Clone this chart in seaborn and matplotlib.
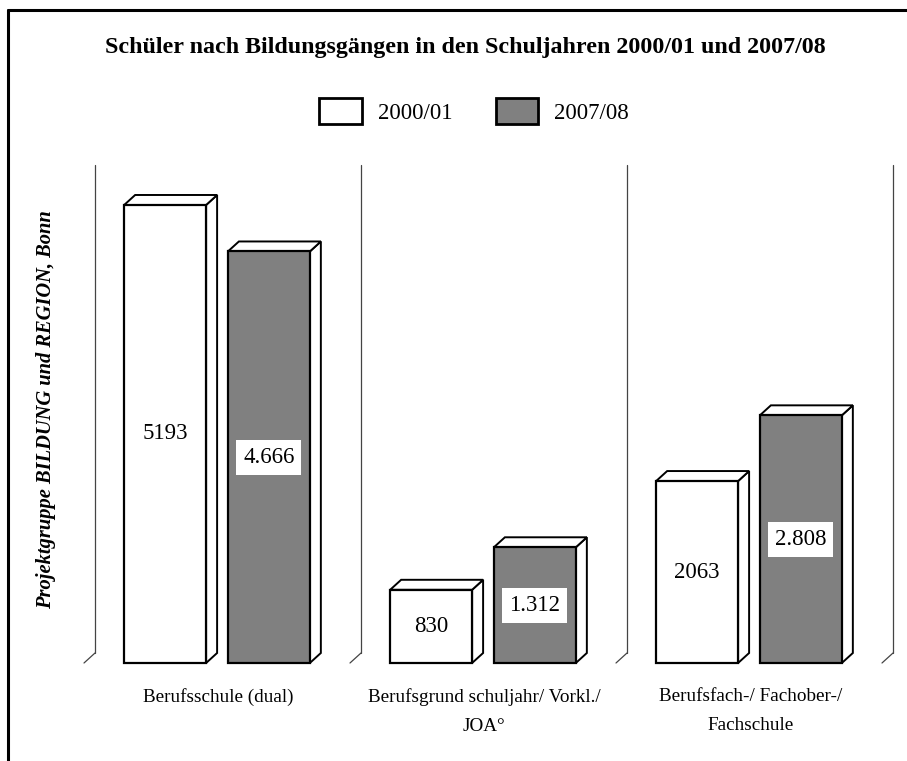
import matplotlib
matplotlib.use("Agg")
import matplotlib.pyplot as plt
import seaborn as sns
import pandas as pd
from matplotlib.patches import Polygon
from matplotlib.lines import Line2D

categories = ["Berufsschule (dual)", "Berufsgrund schuljahr/ Vorkl./\nJOA°", "Berufsfach-/ Fachober-/\nFachschule"]
years = ["2000/01", "2007/08"]
values_2000 = [5193, 830, 2063]
values_2007 = [4666, 1312, 2808]
labels_2000 = ["5193", "830", "2063"]
labels_2007 = ["4.666", "1.312", "2.808"]

df = pd.DataFrame({
    "cat": categories * 2,
    "year": [years[0]] * 3 + [years[1]] * 3,
    "val": values_2000 + values_2007,
})

sns.set_theme(style="white")
plt.rcParams["font.family"] = ["Liberation Serif", "DejaVu Serif"]
plt.rcParams["text.color"] = "black"

W, H = 907, 761
fig = plt.figure(figsize=(W / 100, H / 100), dpi=100)
ax_left, ax_right = 84, 882
ax_bottom, ax_top = 663, 175
ax = fig.add_axes([ax_left / W, 1 - ax_bottom / H, (ax_right - ax_left) / W, (ax_bottom - ax_top) / H])

palette = {years[0]: "white", years[1]: "#808080"}
sns.barplot(data=df, x="cat", y="val", hue="year", palette=palette, width=0.78, gap=0.21,
            edgecolor="black", linewidth=1.6, ax=ax, legend=True, saturation=1)

ymax = 5533
ax.set_xlim(-0.5, 2.5)
ax.set_ylim(0, ymax)
for s in ax.spines.values():
    s.set_visible(False)
ax.set_xticks([])
ax.set_yticks([])
ax.set_xlabel("")
ax.set_ylabel("")
ax.patch.set_alpha(0)

px_x = (ax_right - ax_left) / 3.0
px_y = (ax_bottom - ax_top) / ymax
ddx = 11 / px_x
ddy = 10 / px_y

# back-wall separators
for xs in [-0.5, 0.5, 1.5, 2.5]:
    ax.add_line(Line2D([xs, xs + ddx], [0, ddy], color="#444444", lw=0.9, clip_on=False))
    ax.add_line(Line2D([xs + ddx, xs + ddx], [ddy, ymax + 10 / px_y], color="#444444", lw=0.9, clip_on=False))

bars = [p for p in ax.patches if p.get_height() > 0]
for p in bars:
    x, w, h = p.get_x(), p.get_width(), p.get_height()
    top = Polygon([(x, h), (x + w, h), (x + w + ddx, h + ddy), (x + ddx, h + ddy)], closed=True,
                  facecolor="white", edgecolor="black", lw=1.4, clip_on=False, zorder=3)
    side = Polygon([(x + w, 0), (x + w + ddx, ddy), (x + w + ddx, h + ddy), (x + w, h)], closed=True,
                   facecolor="white", edgecolor="black", lw=1.4, clip_on=False, zorder=3)
    ax.add_patch(side)
    ax.add_patch(top)
    p.set_zorder(4)
    p.set_clip_on(False)

# value labels
for i, (v, t) in enumerate(zip(values_2000, labels_2000)):
    p = bars[i]
    ax.text(p.get_x() + p.get_width() / 2, v / 2, t, ha="center", va="center", fontsize=16.5, zorder=6)
for i, (v, t) in enumerate(zip(values_2007, labels_2007)):
    p = bars[3 + i]
    ax.text(p.get_x() + p.get_width() / 2, v / 2, t, ha="center", va="center", fontsize=16.5, zorder=6,
            bbox=dict(facecolor="white", edgecolor="none", boxstyle="square,pad=0.3"))

# category labels
for i, c in enumerate(categories):
    ax.text(i + 0.005, -25 / px_y, c, ha="center", va="top", fontsize=13.8, linespacing=1.95)

handles, labels = ax.get_legend_handles_labels()
ax.get_legend().remove()
leg = fig.legend(handles, labels, loc="center", bbox_to_anchor=(474 / W, 1 - 111 / H), ncol=2,
                 frameon=False, fontsize=16.5, handlelength=1.85, handleheight=1.4,
                 handletextpad=0.7, columnspacing=1.9)
for h in leg.legend_handles:
    h.set_edgecolor("black")
    h.set_linewidth(2)

fig.text(465 / W, 1 - 48 / H, "Schüler nach Bildungsgängen in den Schuljahren 2000/01 und 2007/08",
         ha="center", va="center", fontsize=17.3, fontweight="bold")
fig.text(46 / W, 1 - 410 / H, "Projektgruppe BILDUNG und REGION, Bonn", rotation=90,
         ha="center", va="center", fontsize=14.8, fontweight="bold", fontstyle="italic")

# frame
fig.add_artist(Line2D([8 / W, 1.0], [1 - 10 / H, 1 - 10 / H], color="black", lw=2.2, transform=fig.transFigure))
fig.add_artist(Line2D([8 / W, 8 / W], [1 - 10 / H, 0.0], color="black", lw=2.2, transform=fig.transFigure))

fig.savefig("out.png", dpi=100, facecolor="white")
